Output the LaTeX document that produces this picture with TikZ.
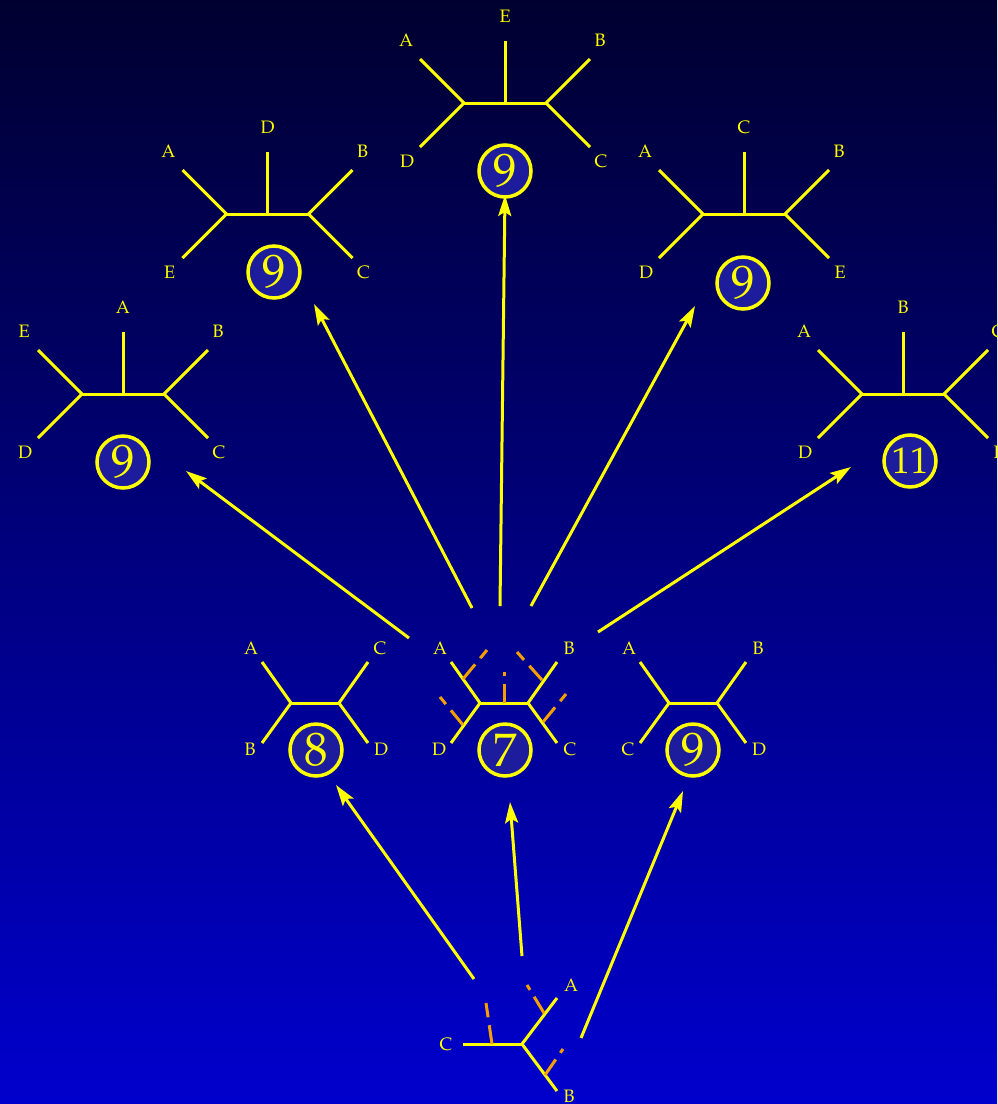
\documentclass[tikz,border=0pt]{standalone}
\usepackage[T1]{fontenc}
\usepackage{mathpazo}
\usetikzlibrary{arrows.meta}
\definecolor{bgtop}{RGB}{0,0,48}
\definecolor{bgbot}{RGB}{0,0,205}
\definecolor{circfill}{RGB}{28,28,156}
\definecolor{orng}{RGB}{245,160,0}
\definecolor{yel}{RGB}{255,255,0}
\tikzset{
  branch/.style={yel, line width=3pt},
  ordash/.style={orng, line width=3pt, dash pattern=on 19pt off 8pt},
  lab/.style={text=yel, font=\fontsize{18}{18}\selectfont, inner sep=0pt},
  score/.style={circle, draw=yel, line width=3.5pt, fill=circfill, minimum size=52pt, inner sep=0pt, text=yel, font=\fontsize{47}{47}\selectfont},
  arr/.style={yel, line width=3pt, -{Stealth[length=21pt,width=13pt,inset=4pt]}}
}
\newcommand\fivetr[8]{%
  \begin{scope}[shift={(#2,#3)}]
    \draw[branch] (-85,-44) -- (-41,0) -- (-85,44);
    \draw[branch] (85,-44) -- (41,0) -- (85,44);
    \draw[branch] (-41,0) -- (41,0);
    \draw[branch] (0,0) -- (0,-62);
    \node[lab] (#1tl) at (-99,-63) {#4};
    \node[lab] (#1tp) at (0,-87) {#5};
    \node[lab] (#1tr) at (95,-63) {#6};
    \node[lab] (#1bl) at (-98,58) {#7};
    \node[lab] (#1br) at (96,58) {#8};
  \end{scope}}
\newcommand\fourtr[7]{%
  \begin{scope}[shift={(#2,#3)}]
    \draw[branch] (-53,-41) -- (-24,0) -- (-53,40);
    \draw[branch] (53,-41) -- (24,0) -- (53,40);
    \draw[branch] (-24,0) -- (24,0);
    \node[lab] (#1tl) at (-64,-55) {#4};
    \node[lab] (#1tr) at (65,-55) {#5};
    \node[lab] (#1bl) at (-65,46) {#6};
    \node[lab] (#1br) at (66,46) {#7};
  \end{scope}}
\begin{document}
\begin{tikzpicture}[x=1pt,y=-1pt]
\useasboundingbox (0,0) rectangle (997,1104);
\clip (0,0) rectangle (997,1104);
\shade[top color=bgtop, bottom color=bgbot] (0,0) rectangle (997,1104);

% top row of five-leaf trees
\fivetr{ta}{505}{103}{A}{E}{B}{D}{C}
\node[score] (sa) at (505,171) {9};
\fivetr{tb}{267.5}{214}{A}{D}{B}{E}{C}
\node[score] (sb) at (274,272) {9};
\fivetr{tc}{744}{214}{A}{C}{B}{D}{E}
\node[score] (sc) at (743,283) {9};
\fivetr{td}{123}{394}{E}{A}{B}{D}{C}
\node[score] (sd) at (123,462) {9};
\fivetr{te}{903}{394}{A}{B}{C}{D}{E}
\node[score, font=\fontsize{37}{37}\selectfont] (se) at (910,461) {11};

% middle row of four-leaf trees
\fourtr{ma}{315}{703}{A}{C}{B}{D}
\node[score] (sma) at (316,750) {8};
\fourtr{mb}{504}{703}{A}{B}{D}{C}
\node[score] (smb) at (505,750) {7};
\fourtr{mc}{693}{703}{A}{B}{C}{D}
\node[score] (smc) at (693,750) {9};

% dashed insertion points on the middle tree
\coordinate (oa1) at (463,679); \coordinate (oa2) at (487,650);
\coordinate (ob1) at (504,703); \coordinate (ob2) at (504,672);
\coordinate (oc1) at (542,680); \coordinate (oc2) at (517,652);
\coordinate (od1) at (543,722); \coordinate (od2) at (566,694);
\coordinate (oe1) at (463,725); \coordinate (oe2) at (440,697);
\draw[ordash] (oa1) -- (oa2);
\draw[ordash] (ob1) -- (ob2);
\draw[ordash] (oc1) -- (oc2);
\draw[ordash] (od1) -- (od2);
\draw[ordash] (oe1) -- (oe2);

% bottom three-leaf tree
\coordinate (bc) at (522,1044);
\coordinate (bC) at (463,1044);
\coordinate (bA) at (557,998);
\coordinate (bB) at (557,1091);
\draw[branch] (bC) -- (bc);
\draw[branch] (bA) -- (bc) -- (bB);
\node[lab] (lbc) at (446,1044) {C};
\node[lab] (lba) at (571,985) {A};
\node[lab] (lbb) at (569,1096) {B};
\coordinate (pa1) at (492,1044); \coordinate (pa2) at (486,1003);
\coordinate (pb1) at (544,1013); \coordinate (pb2) at (527,985);
\coordinate (pc1) at (545,1075); \coordinate (pc2) at (563,1049);
\draw[ordash] (pa1) -- (pa2);
\draw[ordash] (pb1) -- (pb2);
\draw[ordash] (pc1) -- (pc2);

% arrows
\coordinate (a1s) at (474,979); \coordinate (a1e) at (336,785);
\coordinate (a2s) at (522,956); \coordinate (a2e) at (510,802);
\coordinate (a3s) at (581,1038); \coordinate (a3e) at (683,791);
\coordinate (a4s) at (409,638); \coordinate (a4e) at (186,471);
\coordinate (a5s) at (472,608); \coordinate (a5e) at (314,304);
\coordinate (a6s) at (500,606); \coordinate (a6e) at (505,195);
\coordinate (a7s) at (531,606); \coordinate (a7e) at (695,306);
\coordinate (a8s) at (598,632); \coordinate (a8e) at (851,467);
\foreach \i in {1,...,8} \draw[arr] (a\i s) -- (a\i e);
\end{tikzpicture}
\end{document}
